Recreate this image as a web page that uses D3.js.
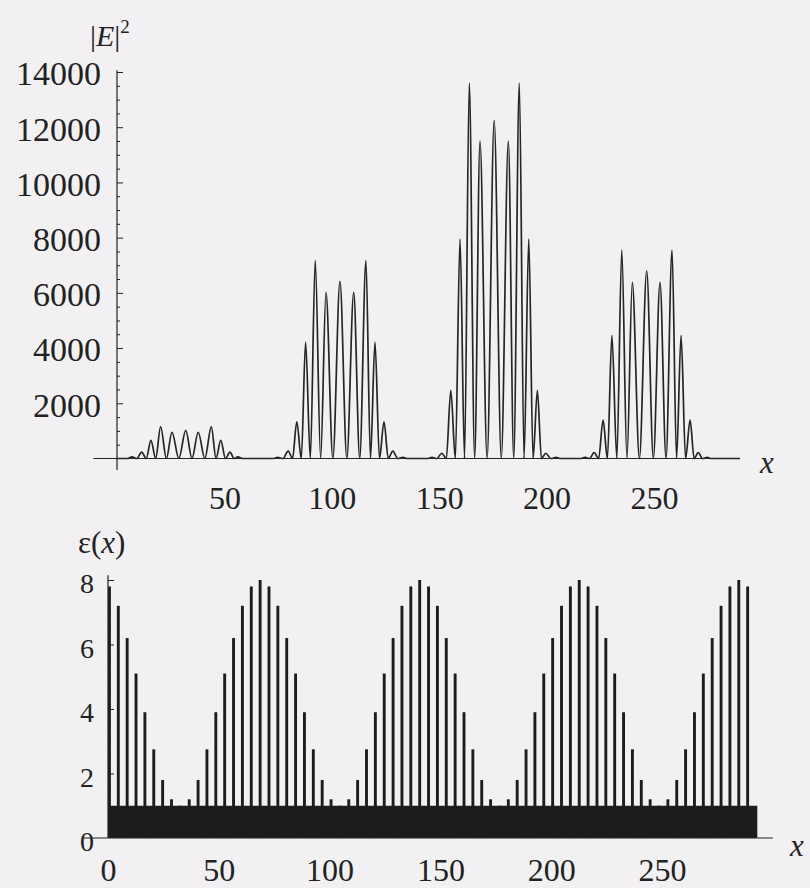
<!DOCTYPE html>
<html>
<head>
<meta charset="utf-8">
<script src="https://cdn.jsdelivr.net/npm/d3@7"></script>
<style>
  body { margin: 0; background: #f2f0f2; }
  svg { display: block; font-family: "Liberation Serif", "Times New Roman", serif; }
</style>
</head>
<body>
<div class="vis"></div>
<script>
// |E|^2 along x: peaks and the zeros between them
const fieldX = [
  0, 4.8, 7.0, 9.2, 11.5, 13.6, 15.8, 18.0, 20.3, 23.0, 25.6, 28.8, 32.0, 34.9, 37.8, 40.9, 43.9, 46.1, 48.3, 50.5, 52.6, 54.5, 56.3, 58.5,
  72.6, 74.8, 77.2, 79.7, 81.7, 83.7, 85.8, 87.8, 90.0, 92.3, 94.8, 97.3, 100.5, 103.8, 107.0, 110.2, 113.0, 115.9, 118.0, 120.1, 122.2, 124.3, 126.3, 128.4, 130.7, 133.1, 135.3,
  144.4, 146.6, 148.9, 151.2, 153.3, 155.4, 157.5, 159.7, 161.8, 164.0, 166.5, 169.0, 172.3, 175.6, 178.9, 182.2, 184.7, 187.3, 189.5, 191.7, 193.7, 195.7, 197.6, 199.6, 202.0, 204.4, 206.6,
  215.7, 217.9, 220.0, 222.1, 224.2, 226.3, 228.3, 230.4, 232.7, 235.0, 237.4, 239.9, 243.2, 246.6, 249.7, 252.8, 255.6, 258.4, 260.5, 262.6, 264.7, 266.8, 268.7, 270.6, 272.6, 274.7, 276.8, 290
];
const fieldE2 = [
  0, 0, 60, 0, 230, 0, 660, 0, 1150, 0, 950, 0, 1020, 0, 950, 0, 1150, 0, 660, 0, 230, 0, 60, 0,
  0, 40, 0, 270, 0, 1330, 0, 4220, 0, 7170, 0, 6020, 0, 6420, 0, 6020, 0, 7170, 0, 4220, 0, 1330, 0, 270, 0, 40, 0,
  0, 40, 0, 190, 0, 2470, 0, 7950, 0, 13600, 0, 11500, 0, 12250, 0, 11500, 0, 13600, 0, 7950, 0, 2470, 0, 190, 0, 40, 0,
  0, 40, 0, 210, 0, 1390, 0, 4460, 0, 7550, 0, 6380, 0, 6800, 0, 6380, 0, 7550, 0, 4460, 0, 1390, 0, 210, 0, 40, 0, 0
];

// high-index layers: start position and epsilon
const layerX = [
  0, 4, 8, 12, 16, 20, 24, 28, 32, 36, 40, 44, 48, 52, 56, 60, 64, 68,
  72, 76, 80, 84, 88, 92, 96, 100, 104, 108, 112, 116, 120, 124, 128, 132, 136, 140,
  144, 148, 152, 156, 160, 164, 168, 172, 176, 180, 184, 188, 192, 196, 200, 204, 208, 212,
  216, 220, 224, 228, 232, 236, 240, 244, 248, 252, 256, 260, 264, 268, 272, 276, 280, 284, 288
];
const layerEps = [
  7.8, 7.2, 6.2, 5.1, 3.9, 2.75, 1.8, 1.2, 1.0, 1.2, 1.8, 2.75, 3.9, 5.1, 6.2, 7.2, 7.8, 8.0,
  7.8, 7.2, 6.2, 5.1, 3.9, 2.75, 1.8, 1.2, 1.0, 1.2, 1.8, 2.75, 3.9, 5.1, 6.2, 7.2, 7.8, 8.0,
  7.8, 7.2, 6.2, 5.1, 3.9, 2.75, 1.8, 1.2, 1.0, 1.2, 1.8, 2.75, 3.9, 5.1, 6.2, 7.2, 7.8, 8.0,
  7.8, 7.2, 6.2, 5.1, 3.9, 2.75, 1.8, 1.2, 1.0, 1.2, 1.8, 2.75, 3.9, 5.1, 6.2, 7.2, 7.8, 8.0,
  7.8
];
const layerWidth = 1.3;
const backgroundEps = 1;
const slabEnd = 293;

const eTicks = [2000, 4000, 6000, 8000, 10000, 12000, 14000];
const eMinorTicks = [500, 1000, 1500, 2500, 3000, 3500, 4500, 5000, 5500, 6500, 7000, 7500,
  8500, 9000, 9500, 10500, 11000, 11500, 12500, 13000, 13500];
const topXTicks = [50, 100, 150, 200, 250];
const bottomXTicks = [0, 50, 100, 150, 200, 250];
const epsTicks = [0, 2, 4, 6, 8];
const epsMinorTicks = [0.5, 1, 1.5, 2.5, 3, 3.5, 4.5, 5, 5.5, 6.5, 7, 7.5];

const ink = "#222";

const svg = d3.select(".vis").append("svg")
  .attr("width", 810)
  .attr("height", 888);

// axis text: d3 sets its own font on the group, so override after the call
const labelStyle = (size, dy) => (g) => {
  g.attr("font-family", null).attr("font-size", size);
  g.select(".domain").remove();
  const t = g.selectAll("text").attr("fill", ink);
  if (dy) t.attr("dy", dy);
};

const tickStyle = (g) => g.call((g) => g.select(".domain").remove())
  .call((g) => g.selectAll("line").attr("stroke", ink).attr("stroke-width", 1));

// ---------- top panel: |E|^2 ----------
const xTop = d3.scaleLinear().domain([0, 250]).range([117, 654]);
const yTop = d3.scaleLinear().domain([0, 14000]).range([458.5, 72]);

const topPanel = svg.append("g");

topPanel.append("line")
  .attr("x1", xTop(-11)).attr("x2", xTop(290))
  .attr("y1", yTop(0)).attr("y2", yTop(0))
  .attr("stroke", ink).attr("stroke-width", 1.2);

topPanel.append("line")
  .attr("x1", xTop(0)).attr("x2", xTop(0))
  .attr("y1", yTop(14060)).attr("y2", yTop(-420))
  .attr("stroke", ink).attr("stroke-width", 1.2);

topPanel.append("g")
  .attr("transform", `translate(${xTop(0)},0)`)
  .call(d3.axisRight(yTop).tickValues(eMinorTicks).tickSize(3).tickFormat(""))
  .call(tickStyle);

topPanel.append("g")
  .attr("transform", `translate(${xTop(0)},0)`)
  .call(d3.axisRight(yTop).tickValues(eTicks).tickSize(6).tickFormat(""))
  .call(tickStyle);

topPanel.append("g")
  .attr("transform", `translate(${xTop(0)},0)`)
  .call(d3.axisLeft(yTop).tickValues(eTicks).tickFormat(d3.format("d")).tickSize(0).tickPadding(16))
  .call(labelStyle(34, "0.38em"));

topPanel.append("g")
  .attr("transform", `translate(0,${yTop(0)})`)
  .call(d3.axisBottom(xTop).tickValues(topXTicks).tickFormat(d3.format("d")).tickSize(0).tickPadding(28))
  .call(labelStyle(32));

const fieldPts = fieldX.map((x, i) => [x, fieldE2[i]]);
const fieldLine = d3.line()
  .x((d) => xTop(d[0]))
  .y((d) => yTop(d[1]))
  .curve(d3.curveMonotoneX);

topPanel.append("path")
  .datum(fieldPts)
  .attr("d", fieldLine)
  .attr("fill", "none")
  .attr("stroke", "#262626")
  .attr("stroke-width", 1.7)
  .attr("stroke-linejoin", "round");

const eLabel = topPanel.append("text")
  .attr("x", 90).attr("y", 46)
  .attr("font-size", 30)
  .attr("fill", ink);
eLabel.append("tspan").text("|");
eLabel.append("tspan").attr("font-style", "italic").text("E");
eLabel.append("tspan").text("|");
eLabel.append("tspan").attr("dy", -13).attr("font-size", 19).text("2");

topPanel.append("text")
  .attr("x", 760).attr("y", 473)
  .attr("font-size", 31)
  .attr("font-style", "italic")
  .attr("fill", ink)
  .text("x");

// ---------- bottom panel: epsilon(x) ----------
const xBot = d3.scaleLinear().domain([0, 250]).range([108, 662]);
const yBot = d3.scaleLinear().domain([0, 8]).range([838, 580]);

const botPanel = svg.append("g");

botPanel.append("rect")
  .attr("x", xBot(0))
  .attr("y", yBot(backgroundEps))
  .attr("width", xBot(slabEnd) - xBot(0))
  .attr("height", yBot(0) - yBot(backgroundEps))
  .attr("fill", "#1c1c1c");

botPanel.append("g")
  .selectAll("rect")
  .data(layerX.map((x, i) => ({ x: x, eps: layerEps[i] })))
  .join("rect")
  .attr("x", (d) => xBot(d.x))
  .attr("y", (d) => yBot(d.eps))
  .attr("width", xBot(layerWidth) - xBot(0))
  .attr("height", (d) => yBot(0) - yBot(d.eps))
  .attr("fill", "#1c1c1c");

botPanel.append("line")
  .attr("x1", xBot(-11)).attr("x2", xBot(300))
  .attr("y1", yBot(0)).attr("y2", yBot(0))
  .attr("stroke", ink).attr("stroke-width", 1.2);

botPanel.append("line")
  .attr("x1", xBot(0)).attr("x2", xBot(0))
  .attr("y1", yBot(8.15)).attr("y2", yBot(0))
  .attr("stroke", ink).attr("stroke-width", 1.2);

botPanel.append("g")
  .attr("transform", `translate(${xBot(0)},0)`)
  .call(d3.axisRight(yBot).tickValues(epsMinorTicks).tickSize(3).tickFormat(""))
  .call(tickStyle);

botPanel.append("g")
  .attr("transform", `translate(${xBot(0)},0)`)
  .call(d3.axisRight(yBot).tickValues(epsTicks.slice(1)).tickSize(6).tickFormat(""))
  .call(tickStyle);

botPanel.append("g")
  .attr("transform", `translate(${xBot(0)},0)`)
  .call(d3.axisLeft(yBot).tickValues(epsTicks).tickFormat(d3.format("d")).tickSize(0).tickPadding(14))
  .call(labelStyle(28, "0.45em"));

botPanel.append("g")
  .attr("transform", `translate(0,${yBot(0)})`)
  .call(d3.axisBottom(xBot).tickValues(bottomXTicks).tickFormat(d3.format("d")).tickSize(0).tickPadding(20))
  .call(labelStyle(32));

const epsLabel = botPanel.append("text")
  .attr("x", 78).attr("y", 553)
  .attr("font-size", 31)
  .attr("fill", ink);
epsLabel.append("tspan").text("ε(");
epsLabel.append("tspan").attr("font-style", "italic").text("x");
epsLabel.append("tspan").text(")");

botPanel.append("text")
  .attr("x", 790).attr("y", 856)
  .attr("font-size", 31)
  .attr("font-style", "italic")
  .attr("fill", ink)
  .text("x");
</script>
</body>
</html>
